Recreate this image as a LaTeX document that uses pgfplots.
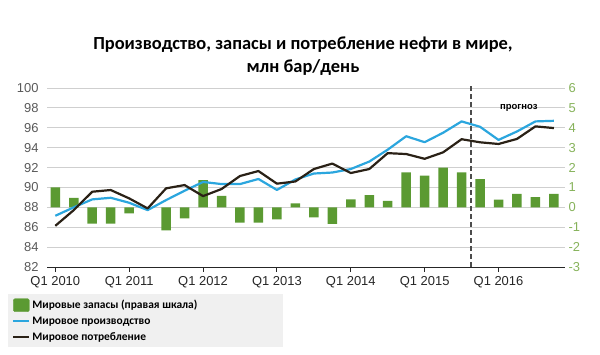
\documentclass[border=0pt]{standalone}
\usepackage{fontspec}
\setmainfont{Liberation Sans}
\newfontfamily\titlefont{Carlito}
\usepackage{pgfplots}
\pgfplotsset{compat=1.18}
\usepackage{pgfplotstable}

\definecolor{barg}{HTML}{5B9A32}
\definecolor{lblue}{HTML}{2BA6DE}
\definecolor{lblack}{HTML}{2A2116}
\definecolor{rgreen}{HTML}{86B25A}
\definecolor{lgray}{HTML}{595959}
\definecolor{gridc}{HTML}{CFCFCF}
\definecolor{legbg}{HTML}{F0F0F0}

\pgfplotstableread{
i v
0 1.0
1 0.48
2 -0.82
3 -0.82
4 -0.31
5 0
6 -1.16
7 -0.55
8 1.37
9 0.58
10 -0.77
11 -0.77
12 -0.6
13 0.2
14 -0.5
15 -0.83
16 0.4
17 0.62
18 0.32
19 1.76
20 1.59
21 2.0
22 1.76
23 1.42
24 0.39
25 0.68
26 0.51
27 0.68
}\stocks

\pgfplotstableread{
i v
0 87.15
1 88.0
2 88.8
3 88.96
4 88.46
5 87.72
6 88.73
7 89.67
8 90.55
9 90.34
10 90.34
11 90.85
12 89.75
13 90.8
14 91.4
15 91.5
16 91.85
17 92.6
18 93.8
19 95.15
20 94.55
21 95.5
22 96.64
23 96.1
24 94.78
25 95.63
26 96.64
27 96.7
}\production

\pgfplotstableread{
i v
0 86.14
1 87.72
2 89.57
3 89.74
4 88.9
5 87.89
6 89.91
7 90.24
8 89.13
9 89.84
10 91.15
11 91.65
12 90.38
13 90.6
14 91.85
15 92.4
16 91.45
17 91.85
18 93.45
19 93.36
20 92.88
21 93.53
22 94.85
23 94.54
24 94.37
25 94.88
26 96.14
27 95.97
}\consumption

\begin{document}
\begin{tikzpicture}
\useasboundingbox (0,0) rectangle (600bp,355bp);

\node[align=center, font=\titlefont\bfseries\fontsize{18.5}{23.3}\selectfont] at (303bp,298.5bp)
  {Производство, запасы и потребление нефти в мире,\\млн бар/день};

% left axis: grid, ticks, labels
\begin{axis}[
  at={(47bp,88bp)}, anchor=south west,
  width=518bp, height=179bp, scale only axis,
  xmin=-0.45, xmax=27.6, ymin=82, ymax=100,
  ytick={82,84,...,100},
  ymajorgrids, grid style={gridc, line width=0.9pt},
  axis x line*=bottom, axis y line*=left,
  y axis line style={draw=none},
  x axis line style={black!85, line width=0.9pt},
  xtick={0,4,8,12,16,20,24},
  xticklabels={Q1 2010,Q1 2011,Q1 2012,Q1 2013,Q1 2014,Q1 2015,Q1 2016},
  xtick style={black!85, line width=0.9pt},
  ytick style={draw=none},
  tick align=outside,
  major tick length=5bp,
  x tick label style={font=\fontsize{13}{13}\selectfont, text=black!85, yshift=-1bp},
  y tick label style={font=\fontsize{13}{13}\selectfont, text=lgray},
  /pgf/number format/assume math mode=true,
]
\addplot[draw=none, forget plot] coordinates {(0,82)};
\end{axis}

% right axis: stocks bars
\begin{axis}[
  at={(47bp,88bp)}, anchor=south west,
  width=518bp, height=179bp, scale only axis,
  xmin=-0.45, xmax=27.6, ymin=-3, ymax=6,
  ytick={-3,-2,...,6},
  axis y line*=right, axis x line=none,
  y axis line style={draw=none},
  ytick style={draw=none},
  y tick label style={font=\fontsize{13}{13}\selectfont, text=rgreen},
  /pgf/number format/assume math mode=true,
]
\addplot[ybar, bar width=9.5bp, fill=barg, draw=none] table[x=i, y=v] {\stocks};
\end{axis}

% lines
\begin{axis}[
  at={(47bp,88bp)}, anchor=south west,
  width=518bp, height=179bp, scale only axis,
  xmin=-0.45, xmax=27.6, ymin=82, ymax=100,
  hide axis, clip=false,
  legend style={at={(-0.0753,-0.151)}, anchor=north west, fill=legbg, draw=none,
    font=\titlefont\bfseries\fontsize{11.5}{13}\selectfont,
    inner xsep=4bp, inner ysep=4bp, row sep=2.5bp},
  legend cell align=left,
]
\addlegendimage{legend image code/.code={\fill[barg, rounded corners=1.5bp] (0bp,-6.5bp) rectangle (16bp,6.5bp);}}
\addlegendentry{\makebox[245bp][l]{Мировые запасы (правая шкала)}}
\addplot[lblue, line width=2.2bp, line join=round,
  legend image code/.code={\draw[lblue, line width=2.2bp] (0bp,0bp) -- (16bp,0bp);}]
  table[x=i, y=v] {\production};
\addlegendentry{Мировое производство}
\addplot[lblack, line width=2.2bp, line join=round,
  legend image code/.code={\draw[lblack, line width=2.2bp] (0bp,0bp) -- (16bp,0bp);}]
  table[x=i, y=v] {\consumption};
\addlegendentry{Мировое потребление}
\addplot[black!70, line width=1.4bp, dash pattern=on 5bp off 3bp, forget plot]
  coordinates {(22.5,82) (22.5,100.3)};
\node[font=\bfseries\fontsize{9.5}{10}\selectfont, anchor=center] at (axis cs:25.1,98.0) {прогноз};
\end{axis}
\end{tikzpicture}
\end{document}
